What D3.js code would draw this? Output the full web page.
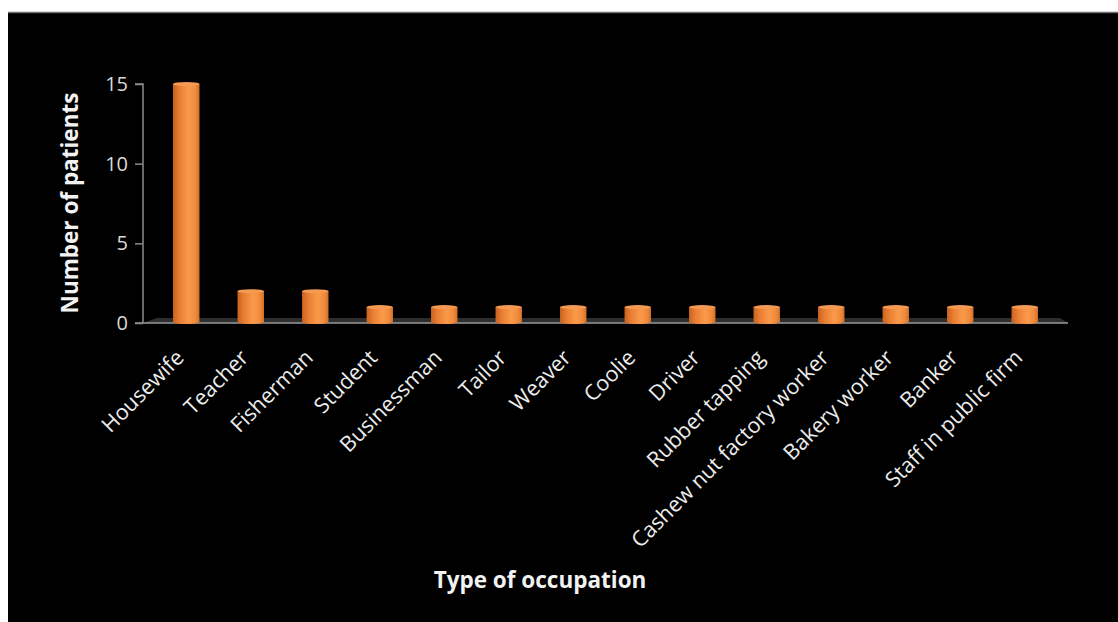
<!DOCTYPE html>
<html>
<head>
<meta charset="utf-8">
<script src="https://cdn.jsdelivr.net/npm/d3@7"></script>
<style>
  html, body { margin: 0; padding: 0; background: #ffffff; }
  svg { display: block; }
</style>
</head>
<body>
<svg id="chart" width="1118" height="622"></svg>
<script>
// Occupations of patients and how many patients had each
const occupations = [
  "Housewife", "Teacher", "Fisherman", "Student", "Businessman", "Tailor",
  "Weaver", "Coolie", "Driver", "Rubber tapping", "Cashew nut factory worker",
  "Bakery worker", "Banker", "Staff in public firm"
];
const patients = [15, 2, 2, 1, 1, 1, 1, 1, 1, 1, 1, 1, 1, 1];
const yTicks = [0, 5, 10, 15];

const svg = d3.select("#chart");
const W = 1118, H = 622;

// dark panel
svg.append("rect").attr("x", 8).attr("y", 12).attr("width", W - 8).attr("height", H - 12).attr("fill", "#000");
svg.append("line").attr("x1", 8).attr("x2", W).attr("y1", 12.5).attr("y2", 12.5)
  .attr("stroke", "#6e6e6e").attr("stroke-width", 1.5);

const axisX = 143;
const depth = 11;       // 3D floor offset
const x = d3.scaleBand()
  .domain(occupations)
  .range([154, 1057])
  .paddingInner(0.59)
  .paddingOuter(0.295);
const y = d3.scaleLinear().domain([0, 15]).range([323, 84]);

const defs = svg.append("defs");
const grad = defs.append("linearGradient").attr("id", "cyl").attr("x1", "0%").attr("x2", "100%");
[[0, "#c7621f"], [0.25, "#e97f33"], [0.6, "#fb9a4b"], [0.85, "#f08a3b"], [1, "#d2702a"]]
  .forEach(([o, c]) => grad.append("stop").attr("offset", o).attr("stop-color", c));

// floor
const floorL = axisX, floorR = x.range()[1] + depth;
svg.append("polygon")
  .attr("points", [[floorL, y(0)], [floorR, y(0)], [floorR - 8, y(0) - 5], [floorL + 14, y(0) - 5]].map(p => p.join(",")).join(" "))
  .attr("fill", "#2e2e2e");
svg.append("line").attr("x1", axisX - 8).attr("x2", floorR).attr("y1", y(0)).attr("y2", y(0))
  .attr("stroke", "#9a9a9a").attr("stroke-width", 1.6);

// y axis
const yAxis = d3.axisLeft(y).tickValues(yTicks).tickSize(8).tickPadding(7);
const gy = svg.append("g").attr("transform", `translate(${axisX},0)`).call(yAxis);
gy.select(".domain").attr("stroke", "#8c8c8c").attr("stroke-width", 1.5).attr("d", `M-8,${y(15)}H0V${y(0)}`);
gy.selectAll(".tick line").attr("stroke", "#8c8c8c").attr("stroke-width", 1.5);
gy.selectAll(".tick text").attr("fill", "#d9d9d9").style("font-family", "'Open Sans', sans-serif").style("font-size", "20px");

// bars as cylinders
const bars = svg.append("g");
const ry = 2;
occupations.forEach((name, i) => {
  const bx = x(name), bw = x.bandwidth(), top = y(patients[i]), bot = y(0) - 1;
  bars.append("path")
    .attr("d", `M${bx},${top} L${bx},${bot} A${bw / 2},${ry} 0 0 0 ${bx + bw},${bot} L${bx + bw},${top} Z`)
    .attr("fill", "url(#cyl)");
  bars.append("ellipse")
    .attr("cx", bx + bw / 2).attr("cy", top).attr("rx", bw / 2).attr("ry", ry)
    .attr("fill", "#f59a52");
});

// category labels
svg.append("g").selectAll("text").data(occupations).join("text")
  .attr("transform", d => `translate(${x(d) + x.bandwidth() / 2 - 1},${y(0) + 36}) rotate(-45)`)
  .attr("text-anchor", "end")
  .attr("fill", "#ececec")
  .style("font-family", "'Open Sans', sans-serif")
  .style("font-size", "21.5px")
  .text(d => d);

// axis titles
svg.append("text")
  .attr("transform", `translate(78,203) rotate(-90)`)
  .attr("text-anchor", "middle")
  .attr("fill", "#f2f2f2")
  .style("font-family", "'Open Sans', sans-serif").style("font-weight", "bold").style("font-size", "22.5px")
  .text("Number of patients");
svg.append("text")
  .attr("x", 540).attr("y", 588)
  .attr("text-anchor", "middle")
  .attr("fill", "#f2f2f2")
  .style("font-family", "'Open Sans', sans-serif").style("font-weight", "bold").style("font-size", "22.5px")
  .text("Type of occupation");
</script>
</body>
</html>
